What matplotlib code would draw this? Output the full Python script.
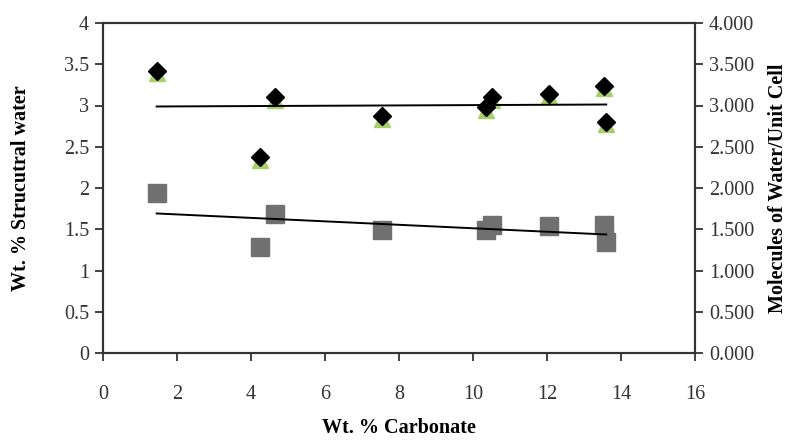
import matplotlib
matplotlib.use("Agg")
import matplotlib.pyplot as plt
import numpy as np

plt.rcParams['font.family'] = ['Liberation Serif', 'DejaVu Serif']

carbonate = [1.45, 4.25, 4.65, 7.55, 10.35, 10.5, 12.05, 13.55, 13.6]
struct_water = [3.42, 2.37, 3.10, 2.87, 2.98, 3.10, 3.14, 3.24, 2.80]
molecules = [3.39, 2.34, 3.07, 2.84, 2.95, 3.07, 3.11, 3.21, 2.77]
squares = [1.94, 1.28, 1.68, 1.49, 1.49, 1.55, 1.54, 1.55, 1.34]

x_ticks = [0, 2, 4, 6, 8, 10, 12, 14, 16]
left_ticks = [0, 0.5, 1, 1.5, 2, 2.5, 3, 3.5, 4]
left_labels = ['0', '0.5', '1', '1.5', '2', '2.5', '3', '3.5', '4']
right_ticks = [0, 0.5, 1, 1.5, 2, 2.5, 3, 3.5, 4]
right_labels = ['0.000', '0.500', '1.000', '1.500', '2.000', '2.500', '3.000', '3.500', '4.000']

fig = plt.figure(figsize=(7.98, 4.45), dpi=100)
ax = fig.add_axes([103/798, 92/445, 592/798, 330/445])
ax2 = ax.twinx()

x = np.array(carbonate)

# right-axis series (green triangles) behind
ax2.plot(carbonate, molecules, linestyle='none', marker='^', markersize=11,
         color='#a6cf6a', zorder=1)
ax2.set_ylim(0, 4)

ax.set_zorder(ax2.get_zorder() + 1)
ax.patch.set_visible(False)

ax.plot(carbonate, squares, linestyle='none', marker='s', markersize=13,
        color='#707070', zorder=2)
ax.plot(carbonate, struct_water, linestyle='none', marker='D', markersize=9,
        color='black', zorder=3)

# linear trend lines
xs = np.array([min(carbonate), max(carbonate)])
p1 = np.polyfit(x, np.array(struct_water), 1)
ax.plot(xs, np.polyval(p1, xs), color='black', lw=1.4, zorder=2.5)
p2 = np.polyfit(x, np.array(squares), 1)
ax.plot(xs, np.polyval(p2, xs), color='black', lw=1.4, zorder=2.5)

ax.set_xlim(0, 16)
ax.set_ylim(0, 4)
ax.set_xticks(x_ticks)
ax.set_xticklabels([str(t) for t in x_ticks])
ax.set_yticks(left_ticks)
ax.set_yticklabels(left_labels)
ax2.set_yticks(right_ticks)
ax2.set_yticklabels(right_labels)

for a in (ax, ax2):
    for s in a.spines.values():
        s.set_linewidth(1.5)
        s.set_color('#333333')
ax.tick_params(axis='both', direction='out', length=6, width=1.3, colors='#333333',
               labelsize=14.5, labelcolor='#333333')
ax.tick_params(axis='x', pad=17)
ax.tick_params(axis='y', pad=4)
ax2.tick_params(axis='y', direction='out', length=6, width=1.3, colors='#333333',
                labelsize=14.5, labelcolor='#333333', pad=4)

ax.set_xlabel('Wt. % Carbonate', fontsize=14.5, fontweight='bold', labelpad=10)
ax.set_ylabel('Wt. % Strucutral water', fontsize=14.5, fontweight='bold', labelpad=24)
ax2.set_ylabel('Molecules of Water/Unit Cell', fontsize=14.5, fontweight='bold', labelpad=10)

fig.savefig('out.png', dpi=100)
